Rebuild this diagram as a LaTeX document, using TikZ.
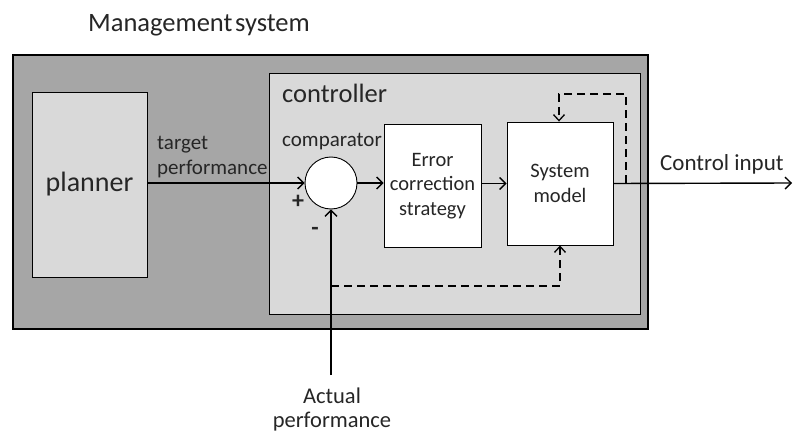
\documentclass[tikz,border=0pt]{standalone}
\usepackage{fontspec}
\setmainfont{Carlito}
\usetikzlibrary{arrows.meta}
\definecolor{outergray}{HTML}{A6A6A6}
\definecolor{innergray}{HTML}{D9D9D9}
\definecolor{txt}{HTML}{262626}
\newcommand{\fs}[2]{\fontsize{#1}{#2}\selectfont}
\begin{document}
\begin{tikzpicture}[x=1pt,y=-1pt,
  box/.style={draw=black,line width=0.9pt,inner sep=0pt,text=txt},
  arr/.style={line width=1.4pt,-{Straight Barb[length=6pt,width=12pt,line width=1.4pt]}},
  dline/.style={line width=1.6pt,dash pattern=on 8pt off 5pt},
  darr/.style={dline,-{Straight Barb[length=6pt,width=11pt,line width=1.3pt]}},
  lbl/.style={inner sep=0pt,text=txt}]
\useasboundingbox (0,0) rectangle (793,433);
% containers
\node[box,fill=outergray,line width=2.2pt,minimum width=635pt,minimum height=274pt] (outer) at (330.5,192) {};
\node[box,fill=innergray,minimum width=371pt,minimum height=241pt] (ctrl) at (454.5,193.5) {};
\node[box,fill=innergray,minimum width=115pt,minimum height=185pt,font=\fs{28}{32}] (planner) at (89.5,184.5) {planner};
% blocks
\node[box,fill=white,circle,minimum size=52pt] (cmp) at (331,183) {};
\node[box,fill=white,minimum width=97pt,minimum height=123pt,align=center,font=\fs{20.5}{24.5}] (err) at (432.5,186) {Error\\correction\\strategy};
\node[box,fill=white,minimum width=106pt,minimum height=123pt,align=center,font=\fs{20.5}{25}] (sys) at (560,183.5) {System\\model};
% labels
\node[lbl,anchor=base,font=\fs{26.5}{30}] (title) at (199,32) {Management\hspace{0.1em}system};
\node[lbl,anchor=base west,font=\fs{26.5}{30}] (ctrllbl) at (282,103) {controller};
\node[lbl,anchor=base west,font=\fs{21}{25}] (cmplbl) at (282,147) {comparator};
\node[lbl,anchor=center,font=\fs{24}{28}\bfseries] (plus) at (298,202) {+};
\node[lbl,anchor=center,font=\fs{24}{28}\bfseries] (minus) at (315,231) {-};
\node[lbl,anchor=base west,align=left,font=\fs{21}{25}] (tp) at (157,175) {target\\performance};
\node[lbl,anchor=base west,font=\fs{23}{27}] (ci) at (660,171) {Control input};
\node[lbl,anchor=base,align=center,font=\fs{22.5}{24}] (ap) at (332,427) {Actual\\performance};
% coordinates
\coordinate (tap) at (626,183);
\coordinate (tc) at (559,94);
\coordinate (bp) at (331,286);
\coordinate (ain) at (331,375);
\coordinate (outend) at (792,183);
% connectors
\draw[arr] (planner.east |- cmp.west) -- (cmp.west);
\draw[arr] (cmp.east) -- (err.west |- cmp.east);
\draw[arr] (err.east |- sys.west) -- (sys.west);
\draw[arr] (sys.east) -- (outend);
\draw[arr] (ain) -- (cmp.south);
\draw[darr] (tap) |- (tc) -- (tc |- sys.north);
\draw[darr] (bp) -| (sys.south);
\end{tikzpicture}
\end{document}
